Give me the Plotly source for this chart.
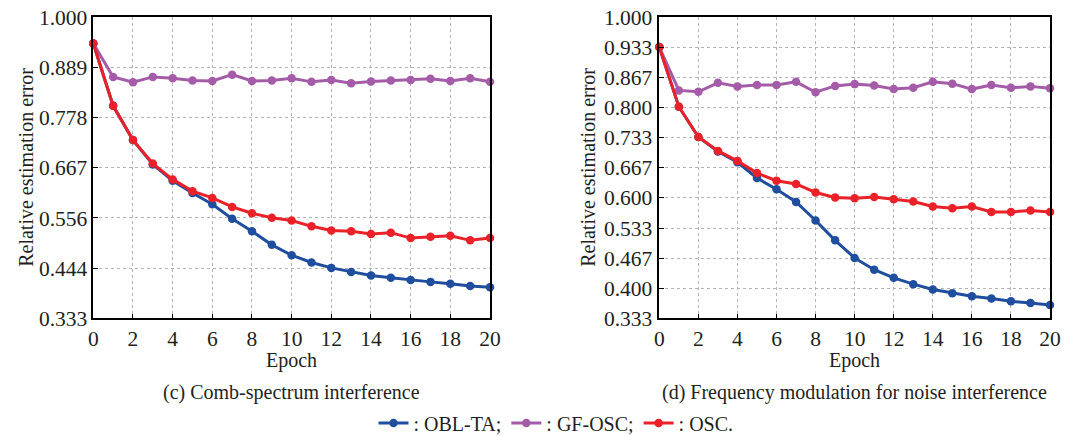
import plotly.graph_objects as go

# Epoch axis
epochs = list(range(21))

# (c) Comb-spectrum interference
comb_obl_ta = [0.942, 0.804, 0.728, 0.674, 0.638, 0.611, 0.586, 0.554, 0.526, 0.496, 0.473,
               0.457, 0.445, 0.436, 0.428, 0.423, 0.418, 0.414, 0.410, 0.405, 0.402]
comb_gf_osc = [0.942, 0.868, 0.856, 0.868, 0.865, 0.860, 0.859, 0.873, 0.859, 0.860, 0.865,
               0.857, 0.861, 0.854, 0.858, 0.860, 0.861, 0.864, 0.859, 0.865, 0.857]
comb_osc = [0.942, 0.804, 0.728, 0.676, 0.641, 0.615, 0.600, 0.580, 0.566, 0.556, 0.550,
            0.537, 0.528, 0.526, 0.520, 0.523, 0.511, 0.514, 0.516, 0.506, 0.511]

# (d) Frequency modulation for noise interference
fm_obl_ta = [0.934, 0.802, 0.735, 0.703, 0.679, 0.644, 0.619, 0.591, 0.550, 0.506, 0.467,
             0.441, 0.423, 0.409, 0.397, 0.389, 0.382, 0.377, 0.371, 0.367, 0.363]
fm_gf_osc = [0.934, 0.838, 0.835, 0.855, 0.847, 0.850, 0.850, 0.857, 0.834, 0.848, 0.852,
             0.849, 0.841, 0.844, 0.857, 0.853, 0.841, 0.850, 0.844, 0.847, 0.843]
fm_osc = [0.934, 0.802, 0.735, 0.704, 0.682, 0.655, 0.638, 0.631, 0.612, 0.601, 0.599,
          0.602, 0.597, 0.592, 0.581, 0.577, 0.581, 0.569, 0.569, 0.572, 0.569]

# Tick labels
x_ticks = list(range(0, 21, 2))
left_ytick_vals = [k / 9 for k in range(3, 10)]
left_ytick_text = ["0.333", "0.444", "0.556", "0.667", "0.778", "0.889", "1.000"]
right_ytick_vals = [k / 15 for k in range(5, 16)]
right_ytick_text = ["0.333", "0.400", "0.467", "0.533", "0.600", "0.667",
                    "0.733", "0.800", "0.867", "0.933", "1.000"]

series_names = [": OBL-TA;", ": GF-OSC;", ": OSC."]
series_colors = ["#1F4E9F", "#A45CA8", "#EA2128"]

FONT = "'Times New Roman', 'Liberation Serif', 'DejaVu Serif', serif"
TEXT = "#231f20"
W, H = 1090, 436

fig = go.Figure()

panels = [
    ("x", "y", [comb_obl_ta, comb_gf_osc, comb_osc], True),
    ("x2", "y2", [fm_obl_ta, fm_gf_osc, fm_osc], False),
]
for xa, ya, values, show in panels:
    for name, color, vals in zip(series_names, series_colors, values):
        fig.add_trace(go.Scatter(
            x=epochs, y=vals, name=name, xaxis=xa, yaxis=ya,
            mode="lines+markers",
            line=dict(color=color, width=3),
            marker=dict(color=color, size=8.5, symbol="circle"),
            cliponaxis=False, showlegend=show,
        ))

y_dom = [(H - 318.3) / H, (H - 17.3) / H]
left_dom = [93.3 / W, 490.0 / W]
right_dom = [659.3 / W, 1050.0 / W]

axis_common = dict(
    showline=True, linecolor="black", linewidth=1.5, mirror=True,
    ticks="inside", ticklen=5, tickwidth=1.2, tickcolor="black",
    showgrid=True, gridcolor="#b4b4b4", griddash="dot", gridwidth=1,
    zeroline=False, automargin=False,
    tickfont=dict(family=FONT, size=21.5, color=TEXT),
)

fig.update_layout(
    width=W, height=H,
    margin=dict(l=0, r=0, t=0, b=0, autoexpand=False),
    paper_bgcolor="white", plot_bgcolor="white",
    font=dict(family=FONT, size=20, color=TEXT),
    xaxis=dict(domain=left_dom, anchor="y", range=[0, 20], tickvals=x_ticks,
               ticklabelstandoff=0, **axis_common),
    yaxis=dict(domain=y_dom, anchor="x", range=[1 / 3, 1],
               tickvals=left_ytick_vals, ticktext=left_ytick_text,
               ticklabelstandoff=0, **axis_common),
    xaxis2=dict(domain=right_dom, anchor="y2", range=[0, 20], tickvals=x_ticks,
                ticklabelstandoff=0, **axis_common),
    yaxis2=dict(domain=y_dom, anchor="x2", range=[1 / 3, 1],
                tickvals=right_ytick_vals, ticktext=right_ytick_text,
                ticklabelstandoff=1, **axis_common),
    legend=dict(orientation="h", xref="container", yref="container",
                x=556 / W, xanchor="center", y=13 / H, yanchor="middle",
                font=dict(family=FONT, size=20, color=TEXT),
                itemwidth=30, bgcolor="rgba(0,0,0,0)"),
    showlegend=True,
)

def cx(dom):
    return (dom[0] + dom[1]) / 2

ymid = cx(y_dom)
annotations = [
    dict(text="Relative estimation error", x=26 / W, y=ymid, textangle=-90),
    dict(text="Relative estimation error", x=588 / W, y=ymid, textangle=-90),
    dict(text="Epoch", x=cx(left_dom), y=(H - 360) / H),
    dict(text="Epoch", x=cx(right_dom), y=(H - 360) / H),
    dict(text="(c) Comb-spectrum interference", x=cx(left_dom), y=(H - 392) / H),
    dict(text="(d) Frequency modulation for noise interference", x=cx(right_dom), y=(H - 392) / H),
]
for a in annotations:
    fig.add_annotation(xref="paper", yref="paper", showarrow=False,
                       xanchor="center", yanchor="middle",
                       font=dict(family=FONT, size=20, color=TEXT), **a)

fig.write_html("out.html")
